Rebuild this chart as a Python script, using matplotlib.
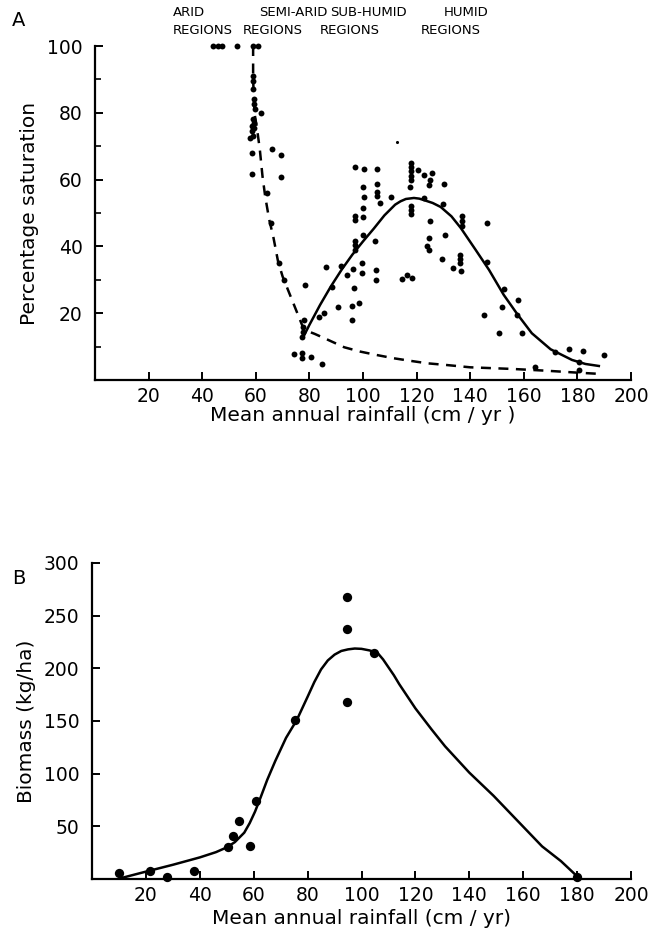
import matplotlib
matplotlib.use("Agg")
import matplotlib.pyplot as plt
from matplotlib.ticker import FixedLocator

# ---------------- data ----------------
x_ticks = [20, 40, 60, 80, 100, 120, 140, 160, 180, 200]
a_yticks = [20, 40, 60, 80, 100]
a_yminor = [10, 30, 50, 70, 90]
b_yticks = [50, 100, 150, 200, 250, 300]

# Panel A scatter (rainfall, % saturation)
a_x = [44, 46, 47.5, 53, 59, 61,
       59, 59, 59, 59.5, 59.5, 59.8, 62, 59, 59.5, 58.5, 59.5, 58.5, 59, 58,
       58.7, 66.2, 69.3, 58.5, 69.3, 64, 65.5, 68.5, 70.5,
       78.4, 86.2, 91.8, 96.4, 99.5, 104.9, 104.9, 93.9, 88.3, 96.6,
       85.5, 90.8, 96, 98.5, 96, 83.5, 77.8, 77.5, 77.5, 77.2,
       74.4, 77.2, 77.2, 80.6, 84.7,
       97, 97, 97, 104.5, 99.5, 100.1, 97, 97, 100.1, 99.9, 100.4,
       97, 100.4, 105.3, 100.1, 105.3, 105.2, 105.2, 106.3, 110.3,
       117.8, 117.8, 117.8, 117.8, 117.8, 120.6, 122.9, 125.6, 125, 124.7,
       130.2, 117.5, 122.9, 129.7, 117.8, 117.8, 117.8, 136.8, 136.8, 136.8,
       146.2, 125, 130.6, 124.7, 123.8, 124.7, 129.3, 136.2, 136.2, 136.2,
       136.6, 133.7, 146.2, 114.4, 116.6, 118.4, 152.6, 157.7, 145.3, 152,
       157.5, 150.7, 159.3, 171.5, 177, 182, 190, 180.6, 180.6, 164]
a_y = [100, 100, 100, 100, 100, 100,
       91, 89.5, 87, 84, 82.5, 81, 80, 78, 77, 76, 75.5, 74.5, 73, 72.5,
       68, 69.3, 67.3, 61.6, 60.8, 55.9, 47, 35, 30,
       28.3, 33.7, 34.2, 33.3, 32, 33, 30, 31.3, 27.9, 27.6,
       20, 22, 22.1, 23, 18, 19, 18, 16, 14.5, 13,
       7.7, 8.2, 6.5, 6.8, 4.8,
       41.5, 40.3, 39, 41.5, 35, 43.5, 49, 47.8, 48.9, 51.4, 54.7,
       63.8, 63.1, 63.1, 57.8, 58.6, 56.3, 55.2, 52.9, 54.7,
       65, 63.8, 62.5, 61.2, 60, 62.8, 61.3, 62, 59.8, 58.5,
       58.8, 57.8, 54.4, 52.6, 52.2, 51, 49.8, 49.2, 47.6, 46,
       47.1, 47.6, 43.5, 42.5, 40, 39, 36.3, 37.5, 36.3, 35.1,
       32.5, 33.5, 35.3, 30.3, 31.5, 30.6, 27.1, 24.1, 19.6, 22,
       19.6, 14.2, 14.2, 8.3, 9.2, 8.8, 7.4, 5.5, 3, 4]
a_small_x = [112.6]
a_small_y = [71.2]

# Panel A fitted curves
a_solid_x = [77.5, 80, 84, 88, 92, 96, 100, 104, 108, 112, 114, 116, 119, 121,
             123, 126, 129, 133, 136.5, 142, 147, 152.5, 157.5, 163, 170, 178,
             183, 188]
a_solid_y = [12.5, 16.5, 22.5, 28, 33, 37.5, 41.5, 45.3, 49.3, 52.5, 53.5, 54.2,
             54.5, 54.3, 53.8, 53, 51.8, 49, 45.5, 39, 33, 25.5, 19.8, 14, 9.2,
             6, 4.8, 4.2]
a_dash_x = [59, 59, 59.5, 60.5, 61.5, 62.5, 63.5, 65, 66.5, 68.3, 70, 72, 75,
            77.5, 78.8, 82, 87, 93, 99, 105, 111.5, 118, 124, 131, 140, 156,
            168, 180, 189]
a_dash_y = [100, 90, 80, 75, 69, 61, 55, 48, 43, 35.5, 31, 27, 21, 16, 14.8,
            13.8, 12, 9.8, 8.5, 7.5, 6.5, 5.7, 5, 4.5, 3.8, 3.3, 2.8, 2.2, 1.8]

# Panel B scatter (rainfall, biomass)
b_x = [10, 21.5, 28, 38, 50.5, 52.5, 54.5, 58.5, 61, 75.5, 94.5, 94.5, 94.5,
       104.5, 180]
b_y = [6, 7.5, 2, 7.5, 30.5, 41, 55, 31, 74, 151, 168, 237, 268, 215, 2]
b_curve_x = [11, 20, 30, 40, 46, 50, 53, 56.5, 58.5, 60.5, 62.5, 65, 68, 72,
             76, 80, 82.5, 85, 87.5, 90, 92.5, 95, 97.5, 100, 103, 106, 108,
             110, 112, 114, 117, 120, 126, 131, 140, 149, 158, 167, 174, 179]
b_curve_y = [1, 7, 13.5, 20.5, 25.5, 30, 35, 44, 53, 64, 77, 94, 112, 134,
             151, 173, 187, 199, 207.5, 213, 216.5, 218, 218.8, 218.5, 217,
             214.5, 208.5, 201, 193.5, 185, 173.5, 162, 142, 126, 101, 79, 55,
             31, 17, 5]

# ---------------- figure ----------------
W, H = 653, 941
fig = plt.figure(figsize=(W / 100, H / 100), dpi=100)

def box(l, r, b, t):
    return [l / W, 1 - b / H, (r - l) / W, (b - t) / H]

axA = fig.add_axes(box(95, 631, 380, 46))
axB = fig.add_axes(box(92, 631, 879, 563))

for ax in (axA, axB):
    for s in ("top", "right"):
        ax.spines[s].set_visible(False)
    for s in ("left", "bottom"):
        ax.spines[s].set_linewidth(1.6)
    ax.set_xlim(0, 200)
    ax.xaxis.set_major_locator(FixedLocator(x_ticks))
    ax.tick_params(axis="both", which="major", direction="in", length=6,
                   width=1.4, labelsize=13.5, pad=5)
    ax.tick_params(axis="y", which="major", pad=9)
    ax.tick_params(axis="both", which="minor", direction="in", length=4,
                   width=1.2)

# Panel A
axA.set_ylim(0, 100)
axA.yaxis.set_major_locator(FixedLocator(a_yticks))
axA.yaxis.set_minor_locator(FixedLocator(a_yminor))
axA.plot(a_dash_x, a_dash_y, color="black", lw=1.8, ls=(0, (4, 3)))
axA.plot(a_solid_x, a_solid_y, color="black", lw=1.8)
axA.scatter(a_x, a_y, s=18, color="black", zorder=3, clip_on=False, lw=0)
axA.scatter(a_small_x, a_small_y, s=5, color="black", zorder=3, lw=0)
axA.set_ylabel("Percentage saturation", fontsize=14.5, labelpad=6)
axA.set_xlabel("Mean annual rainfall (cm / yr )", fontsize=14.5, labelpad=0)

# Panel B
axB.set_ylim(0, 300)
axB.yaxis.set_major_locator(FixedLocator(b_yticks))
axB.plot(b_curve_x, b_curve_y, color="black", lw=1.8)
axB.scatter(b_x, b_y, s=45, color="black", zorder=3, clip_on=False, lw=0)
axB.set_ylabel("Biomass (kg/ha)", fontsize=14.5, labelpad=6)
axB.set_xlabel("Mean annual rainfall (cm / yr)", fontsize=14.5, labelpad=3)

# Panel letters and region headers
def ftext(x, y, s, **kw):
    fig.text(x / W, 1 - y / H, s, **kw)

ftext(12, 20, "A", fontsize=14, va="center", ha="left")
ftext(12, 578, "B", fontsize=14, va="center", ha="left")
for word, xl in [("ARID", 173), ("SEMI-ARID", 259), ("SUB-HUMID", 330), ("HUMID", 444)]:
    ftext(xl, 13, word, fontsize=9.5, va="center", ha="left")
for xl in [173, 243, 320, 421]:
    ftext(xl, 30, "REGIONS", fontsize=9.5, va="center", ha="left")

fig.savefig("out.png", dpi=100)
